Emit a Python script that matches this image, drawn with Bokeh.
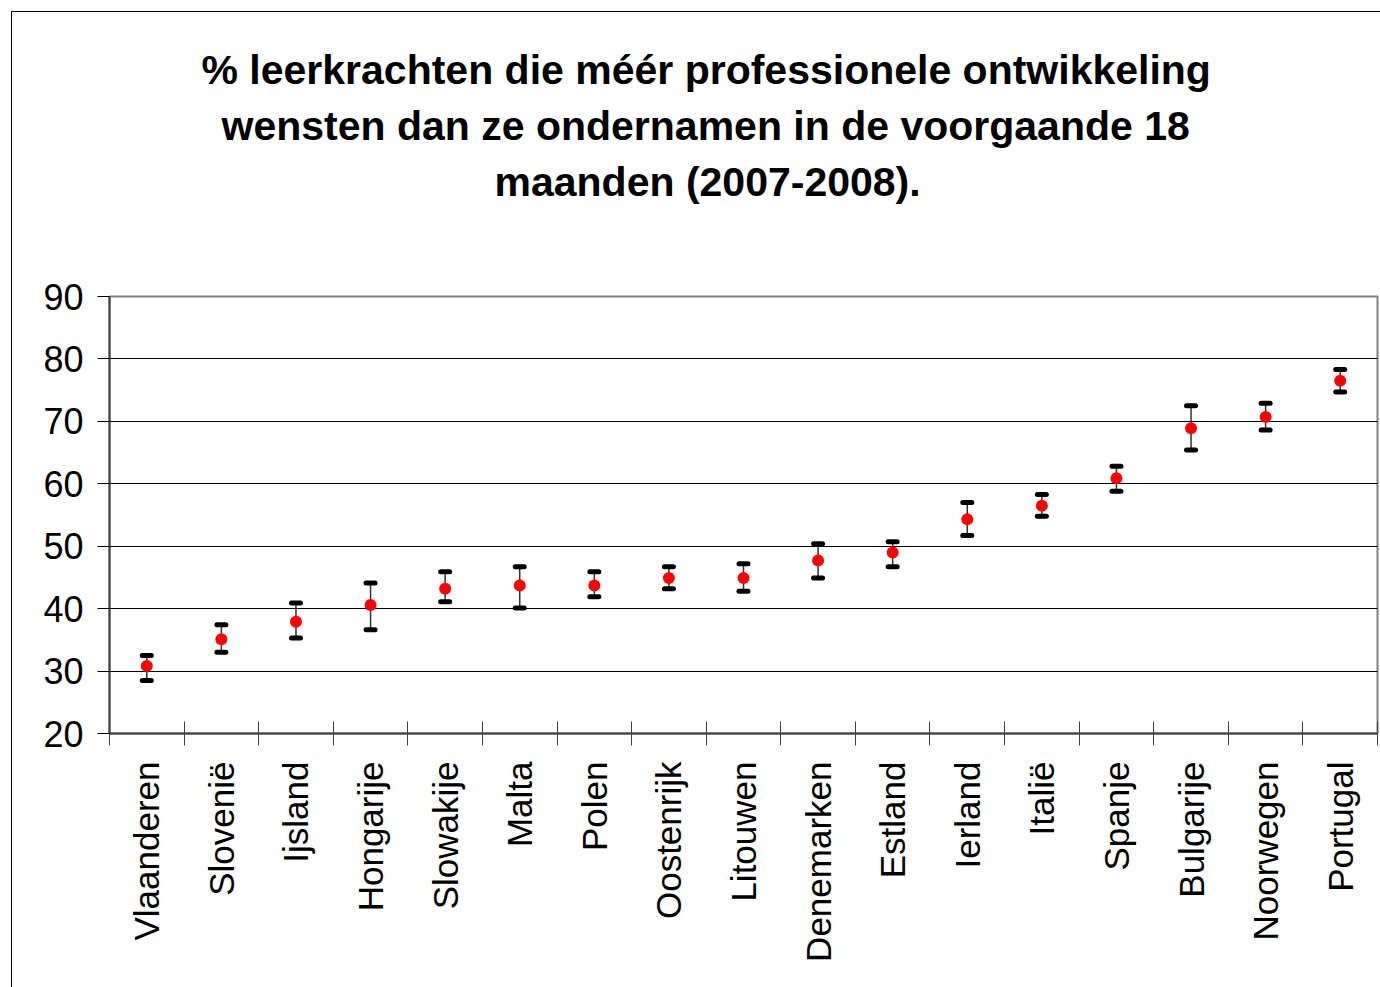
import math
from bokeh.plotting import figure
from bokeh.models import Whisker, TeeHead, ColumnDataSource, FixedTicker, Title
from bokeh.embed import file_html
from bokeh.resources import INLINE

countries = ["Vlaanderen", "Slovenië", "Ijsland", "Hongarije", "Slowakije", "Malta",
             "Polen", "Oostenrijk", "Litouwen", "Denemarken", "Estland", "Ierland",
             "Italië", "Spanje", "Bulgarije", "Noorwegen", "Portugal"]
values = [30.8, 35.1, 37.9, 40.6, 43.2, 43.7, 43.7, 44.9, 44.9, 47.7, 49.0, 54.3,
          56.5, 60.9, 68.9, 70.7, 76.5]
upper = [32.5, 37.4, 40.9, 44.1, 45.9, 46.7, 45.9, 46.7, 47.2, 50.4, 50.7, 57.0,
         58.3, 62.8, 72.5, 72.9, 78.3]
lower = [28.5, 33.0, 35.3, 36.6, 41.1, 40.1, 41.9, 43.2, 42.8, 44.9, 46.7, 51.7,
         54.8, 58.8, 65.4, 68.6, 74.7]
y_ticks = [20, 30, 40, 50, 60, 70, 80, 90]
title_lines = ["% leerkrachten die méér professionele ontwikkeling",
               "wensten dan ze ondernamen in de voorgaande 18",
               "maanden (2007-2008)."]

xs = [i + 0.5 for i in range(len(countries))]
src = ColumnDataSource(dict(x=xs, y=values, upper=upper, lower=lower))

p = figure(width=1369, height=976, x_range=(0, len(countries)), y_range=(20, 90),
           output_backend="svg", toolbar_location=None,
           min_border_left=97, min_border_right=4, min_border_top=284,
           min_border_bottom=255)
p.margin = (11, 0, 0, 11)
p.styles = {"border-left": "1px solid black", "border-top": "1px solid black"}

p.title.visible = False
offsets = [92, 112, 385]
standoffs = [0, 16, 0]
texts = [title_lines[0], title_lines[1], title_lines[2] + "\n\n"]
for line, off, so in zip(reversed(texts), reversed(offsets), reversed(standoffs)):
    p.add_layout(Title(text=line, align="left", text_font="Liberation Sans",
                       text_font_size="41px", text_font_style="bold",
                       text_color="black", standoff=so, offset=off), "above")

p.outline_line_color = "#808080"
p.outline_line_width = 2

p.xgrid.visible = False
p.ygrid.grid_line_color = "black"
p.ygrid.grid_line_width = 1

p.yaxis.ticker = FixedTicker(ticks=y_ticks)
p.yaxis.axis_line_color = "#404040"
p.yaxis.axis_line_width = 2
p.yaxis.major_tick_in = 0
p.yaxis.major_tick_out = 12
p.yaxis.minor_tick_line_color = None
p.yaxis.major_label_text_font = "Liberation Sans"
p.yaxis.major_label_text_font_size = "36px"
p.yaxis.major_label_text_color = "black"
p.yaxis.major_label_standoff = 14

p.xaxis.ticker = FixedTicker(ticks=xs, minor_ticks=list(range(len(countries) + 1)))
p.xaxis.major_label_overrides = {x: c for x, c in zip(xs, countries)}
p.xaxis.major_label_orientation = math.pi / 2
p.xaxis.major_tick_in = 0
p.xaxis.major_tick_out = 0
p.xaxis.minor_tick_in = 12
p.xaxis.minor_tick_out = 12
p.xaxis.minor_tick_line_color = "#404040"
p.xaxis.axis_line_color = "#404040"
p.xaxis.axis_line_width = 2
p.xaxis.major_label_text_font = "Liberation Sans"
p.xaxis.major_label_text_font_size = "35px"
p.xaxis.major_label_text_color = "black"
p.xaxis.major_label_standoff = 16

w = Whisker(source=src, base="x", upper="upper", lower="lower",
            line_color="#333333", line_width=1.5,
            upper_head=TeeHead(size=9, line_color="black", line_width=5, line_cap="round"),
            lower_head=TeeHead(size=9, line_color="black", line_width=5, line_cap="round"))
p.add_layout(w)

p.scatter("x", "y", source=src, size=12, fill_color="red", line_color=None)

open("out.html", "w").write(file_html(p, INLINE))
